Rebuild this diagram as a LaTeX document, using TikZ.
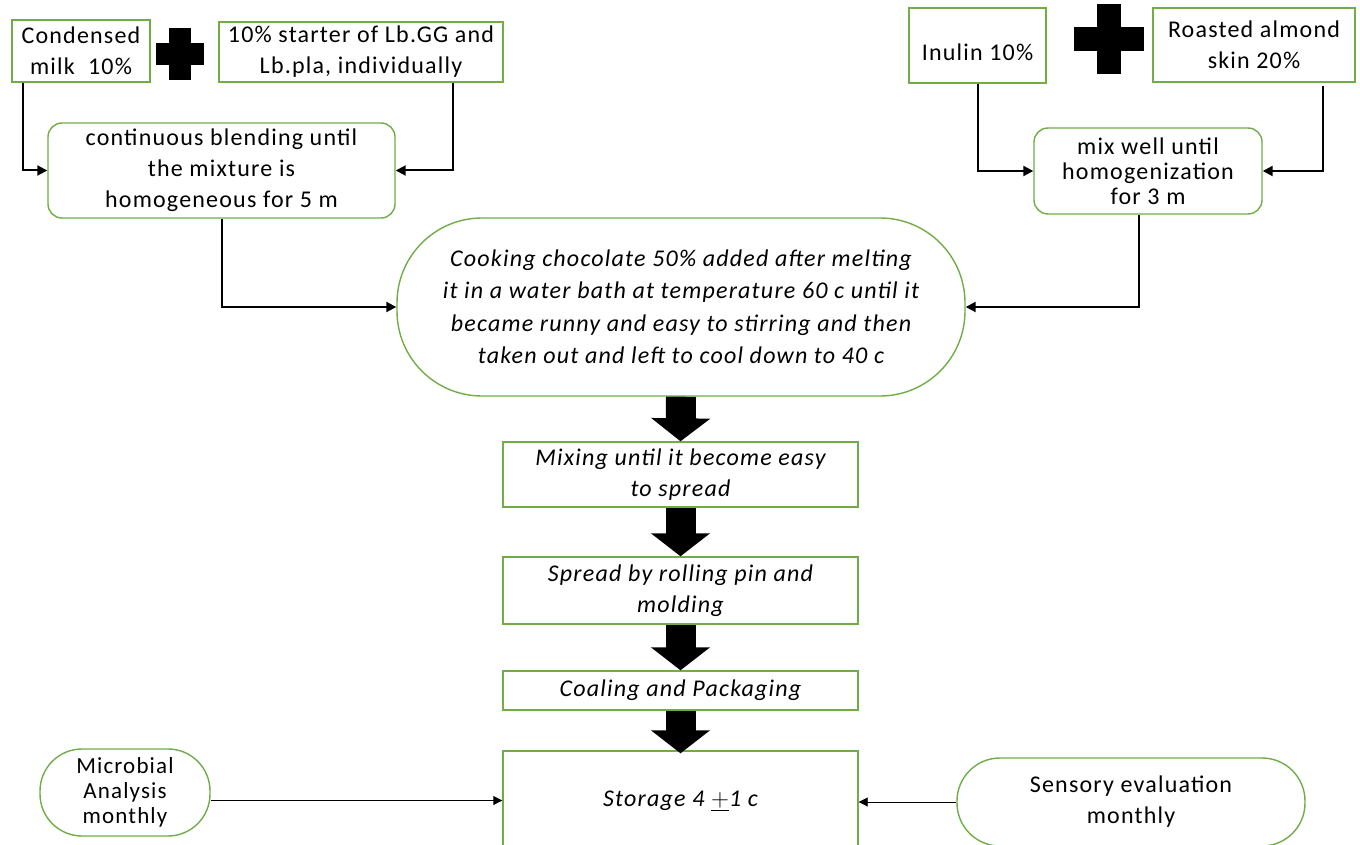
\documentclass[tikz,border=0pt]{standalone}
\usepackage{fontspec}
\setmainfont{Carlito}[LetterSpace=5]
\usetikzlibrary{arrows.meta}
\definecolor{leaf}{RGB}{112,173,71}
\begin{document}
\begin{tikzpicture}[x=1pt, y=-1pt,
    box/.style={draw=leaf, line width=1.4pt, align=center, inner sep=0pt,
        font=\fontsize{24}{31}\selectfont},
    soft/.style={box, rounded corners=14pt},
    stagebox/.style={box, minimum width=355pt, font=\fontsize{24}{31}\selectfont\itshape},
    feed/.style={line width=2pt, -{Triangle[length=10pt,width=10pt]}},
    thinfeed/.style={line width=0.9pt, -{Triangle[length=9pt,width=9pt]}},
    bigarrow/.style={line width=30pt, -{Triangle[length=23pt,width=58pt]}}]
    \useasboundingbox (0,0) rectangle (1360,845);
    \clip (0,0) rectangle (1360,845);

    % Left ingredients
    \node[box, minimum width=138pt, minimum height=62pt] (milk) at (81,51) {Condensed\\milk\ \ 10\%};
    \node[box, minimum width=284pt, minimum height=60pt] (starter) at (361,52) {10\% starter of Lb.GG and\\Lb.pla, individually};
    \node[soft, minimum width=347pt, minimum height=95pt] (blend) at (221.5,170.5) {continuous blending until\\the mixture is\\homogeneous for 5 m};

    % Right ingredients
    \node[box, minimum width=137pt, minimum height=75pt] (inulin) at (977.5,45.5) {\mbox{}\\Inulin 10\%};
    \node[box, minimum width=202pt, minimum height=74pt] (almond) at (1254,45) {Roasted almond\\skin 20\%};
    \node[soft, minimum width=228pt, minimum height=86pt, font=\fontsize{24}{25}\selectfont] (mix) at (1148,171) {mix well until\\homogenization\\for 3 m};

    % Plus signs
    \foreach \cx/\cy/\hw/\hh/\t in {180/54/24/26/11, 1109/39/35/35/12} {
        \fill (\cx-\t,\cy-\hh) rectangle (\cx+\t,\cy+\hh);
        \fill (\cx-\hw,\cy-\t) rectangle (\cx+\hw,\cy+\t);
    }

    % Main line
    \node[box, rounded corners=85pt, minimum width=568pt, minimum height=178pt, font=\fontsize{24}{32.5}\selectfont\itshape] (cook) at (681,307)
        {Cooking chocolate 50\% added after melting\\it in a water bath at temperature 60 c until it\\became runny and easy to stirring and then\\taken out and left to cool down to 40 c};
    \node[stagebox, minimum height=65pt] (mixing) at (680.5,474.5) {Mixing until it become easy\\to spread};
    \node[stagebox, minimum height=67pt] (spread) at (680.5,590.5) {Spread by rolling pin and\\molding};
    \node[stagebox, minimum height=39pt] (coal) at (680.5,690.5) {Coaling and Packaging};
    \node[stagebox, minimum height=100pt] (store) at (680.5,801) {Storage 4 $\underline{+}$1 c};

    % Checks
    \node[box, rounded corners=42pt, minimum width=170pt, minimum height=87pt, font=\fontsize{23}{25}\selectfont] (micro) at (125,792.5) {Microbial\\Analysis\\monthly};
    \node[box, rounded corners=43pt, minimum width=348pt, minimum height=88pt] (sensory) at (1131,802) {Sensory evaluation\\monthly};

    % Connectors
    \draw[feed] ([xshift=12pt]milk.south west) |- (blend.west);
    \draw[feed] ([xshift=-51pt]starter.south east) |- (blend.east);
    \draw[feed] (inulin.south) |- (mix.west);
    \draw[feed] ([xshift=-33pt,yshift=-3pt]almond.south east) |- (mix.east);
    \draw[feed] (blend.south) |- (cook.west);
    \draw[feed] ([xshift=-9pt]mix.south) |- (cook.east);

    \draw[bigarrow] (cook.south) -- (mixing.north);
    \draw[bigarrow] (mixing.south) -- (spread.north);
    \draw[bigarrow] (spread.south) -- (coal.north);
    \draw[bigarrow] (coal.south) -- ([yshift=-3pt]store.north);

    \draw[thinfeed] ([yshift=-8pt]micro.east) -- ([yshift=-8pt]micro.east -| store.west);
    \draw[thinfeed] (sensory.west) -- (sensory.west -| store.east);
\end{tikzpicture}
\end{document}
